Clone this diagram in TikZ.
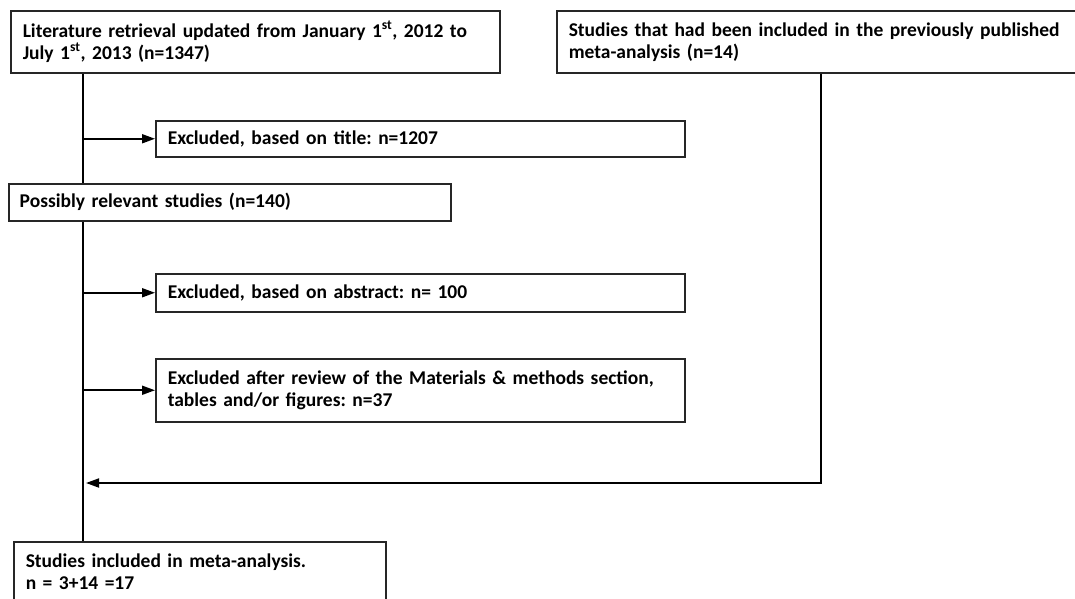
\documentclass[tikz,border=0pt]{standalone}
\usepackage{fontspec}
\setmainfont{Carlito}
\usetikzlibrary{arrows.meta}
\begin{document}
\frenchspacing
\begin{tikzpicture}[x=1pt,y=-1pt,
  box/.style={draw=black!85, line width=1.5pt, anchor=north west, inner xsep=12pt, inner ysep=0pt,
    align=left, font=\fontsize{19.5}{22}\selectfont\bfseries},
  conn/.style={line width=1.8pt, black},
  arr/.style={conn, -{Triangle[length=13pt,width=9pt]}}]
\useasboundingbox (0,0) rectangle (1075,598);
\clip (0,0) rectangle (1075,598);
\node[box, minimum width=489pt, minimum height=62pt, text width=465pt] (b1) at (10,10)
  {Literature retrieval updated from January 1\textsuperscript{st}, 2012 to\\July 1\textsuperscript{st}, 2013 (n=1347)};
\node[box, minimum width=534pt, minimum height=62pt, text width=510pt] (b2) at (556,10)
  {Studies that had been included in the previously published\\meta-analysis (n=14)};
\node[box, minimum width=529pt, minimum height=36pt, text width=505pt] (tb) at (155,120)
  {Excluded, based on title: n=1207};
\node[box, minimum width=442pt, minimum height=37pt, text width=420pt, inner xsep=11pt] (pb) at (8,183)
  {Possibly relevant studies (n=140)};
\node[box, minimum width=529pt, minimum height=38pt, text width=505pt] (ab) at (155,273)
  {Excluded, based on abstract: n= 100};
\node[box, minimum width=529pt, minimum height=63pt, text width=505pt] (rb) at (155,358)
  {Excluded after review of the Materials \& methods section,\\tables and/or figures: n=37};
\node[box, minimum width=372pt, minimum height=60pt, text width=348pt] (fb) at (13,541)
  {Studies included in meta-analysis.\\n = 3+14 =17};
\coordinate (ml) at (83,0);
\coordinate (rl) at (821,0);
\coordinate (j) at (86,483);
\draw[conn] (b1.south -| ml) -- (pb.north -| ml);
\draw[conn] (pb.south -| ml) -- (fb.north -| ml);
\draw[arr] (tb.west -| ml) -- (tb.west);
\draw[arr] (ab.west -| ml) -- (ab.west);
\draw[arr] (rb.west -| ml) -- (rb.west);
\draw[arr] (b2.south -| rl) |- (j);
\end{tikzpicture}
\end{document}
